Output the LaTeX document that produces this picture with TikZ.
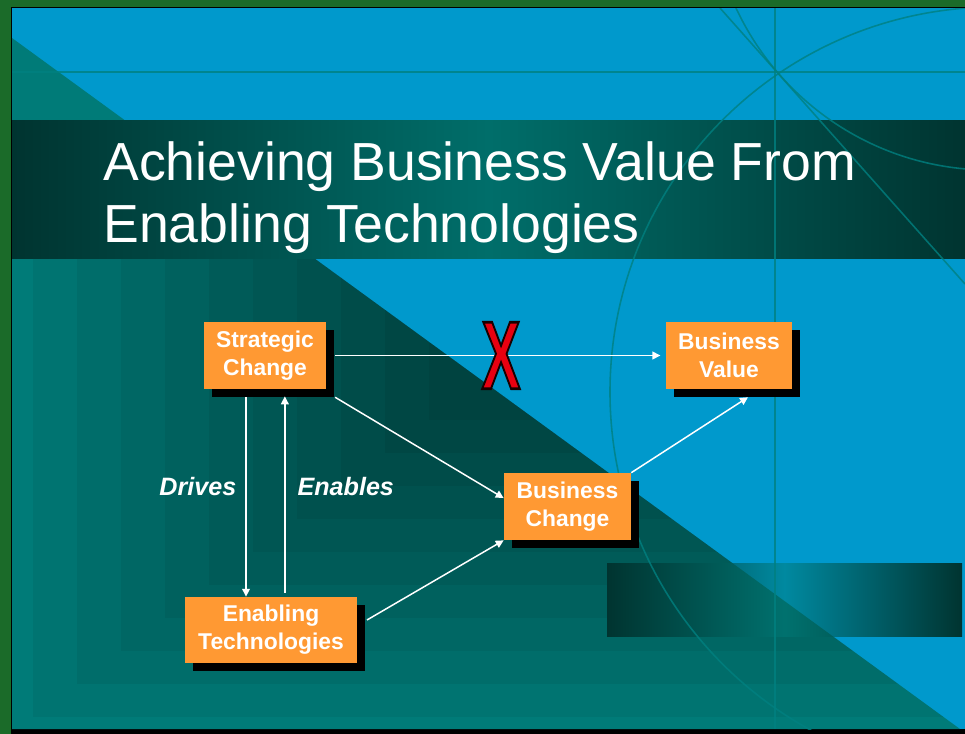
\documentclass[tikz,border=0pt]{standalone}
\usepackage{fontspec}
\setsansfont{Liberation Sans}
\usetikzlibrary{arrows.meta,shadows,calc}

\definecolor{framegreen}{RGB}{27,107,41}
\definecolor{slideblue}{RGB}{0,153,204}
\definecolor{slideteal}{RGB}{0,123,120}
\definecolor{deepteal}{RGB}{0,52,48}
\definecolor{midteal}{RGB}{0,110,106}
\definecolor{barblue}{RGB}{0,137,160}
\definecolor{ringline}{RGB}{0,128,128}
\definecolor{boxorange}{RGB}{255,153,51}
\definecolor{xred}{RGB}{232,0,16}

\tikzset{
  box/.style={fill=boxorange, text=white, align=center, inner sep=0pt,
    font=\sffamily\bfseries\fontsize{13}{15.9}\selectfont, minimum height=1.34cm,
    drop shadow={shadow xshift=4.5pt, shadow yshift=-4.5pt, fill=black, opacity=1}},
  flow/.style={draw=white, line width=0.85pt, -{Triangle[length=4.5pt,width=4.4pt]}},
  tag/.style={text=white, font=\sffamily\bfseries\itshape\fontsize{14.3}{16}\selectfont},
  cross/.style={text=xred, font=\sffamily\bfseries\fontsize{55}{55}\selectfont, xscale=0.6, inner sep=0pt},
  ring/.style={draw=ringline, line width=0.9pt, opacity=0.8}
}

\begin{document}
\begin{tikzpicture}[x=0.02cm, y=-0.02cm]
    \useasboundingbox (0,0) rectangle (965,734);

    % Frame and slide
    \fill[framegreen] (0,0) rectangle (965,734);
    \fill[black] (11,729) rectangle (965,734);
    \fill[slideblue] (12,8) rectangle (965,729);
    \draw[black, line width=0.6pt] (11.5,729) -- (11.5,7.5) -- (965,7.5);

    % Teal triangle with stepped shade
    \fill[slideteal] (12,38) -- (960,729) -- (12,729) -- cycle;
    \begin{scope}
      \clip (12,38) -- (960,729) -- (12,729) -- cycle;
      \foreach \i in {0,...,9}
        \fill[black, opacity=0.055] ({33+44*\i},258) rectangle (965,{717-33*\i});
    \end{scope}

    % Title band
    \shade[left color=deepteal, right color=deepteal, middle color=midteal] (12,120) rectangle (965,258);

    % Bar at the bottom right
    \shade[left color=deepteal, right color=deepteal, middle color=barblue] (607,563) rectangle (962,636);
    \begin{scope}
      \clip (12,38) -- (960,729) -- (12,729) -- cycle;
      \shade[left color=deepteal, right color=deepteal, middle color=slideteal!92!black] (607,563) rectangle (962,636);
    \end{scope}

    % Thin lines
    \begin{scope}
      \clip (12,8) rectangle (965,729);
      \draw[ring] (12,72) -- (965,72);
      \draw[ring] (775,8) -- (775,729);
      \draw[ring] (720,8) -- (965,284);
      \draw[ring] (995,392) circle[radius=385];
      \draw[ring] (990,-110) circle[radius=280];
    \end{scope}

    % Title
    \node[anchor=base west, text=white, align=left, inner sep=0pt,
          font=\sffamily\fontsize{30.5}{35.1}\selectfont] (title) at (103,242)
          {Achieving Business Value From\\Enabling Technologies};

    % Boxes
    \node[box, minimum width=2.44cm] (strat) at (265,355.5) {Strategic\\Change};
    \node[box, minimum width=2.52cm] (value) at (729,355.5) {Business\\Value};
    \node[box, minimum width=2.54cm] (bchange) at (567.5,506.5) {Business\\Change};
    \node[box, minimum width=3.44cm, minimum height=1.32cm] (enab) at (271,630) {Enabling\\Technologies};

    % Arrows
    \draw[flow] ([xshift=5pt]strat.east) -- ([xshift=-3pt]value.west)
        node[cross, pos=0.51] (nogo) {\special{pdf:literal direct 2 Tr 1.6 w 0.1 0 0 RG}X};
    \draw[flow] ([shift={(5pt,-4.5pt)}]strat.south east) -- ([yshift=4.8pt]bchange.west);
    \draw[flow] ([shift={(5.5pt,5.7pt)}]enab.east) -- (bchange.south west);
    \draw[flow] (bchange.north east) -- ([shift={(10.8pt,-4.5pt)}]value.south);
    \draw[flow] ($(strat.south)+(-10.8pt,-4.5pt)$) -- ($(strat.south |- enab.north)+(-10.8pt,0)$)
        node[tag, pos=0.45, left=1.8pt] (drives) {Drives};
    \draw[flow] ($(strat.south |- enab.north)+(11.3pt,2.3pt)$) -- ($(strat.south)+(11.3pt,-4pt)$)
        node[tag, pos=0.54, right=3.5pt] (enables) {Enables};
\end{tikzpicture}
\end{document}
